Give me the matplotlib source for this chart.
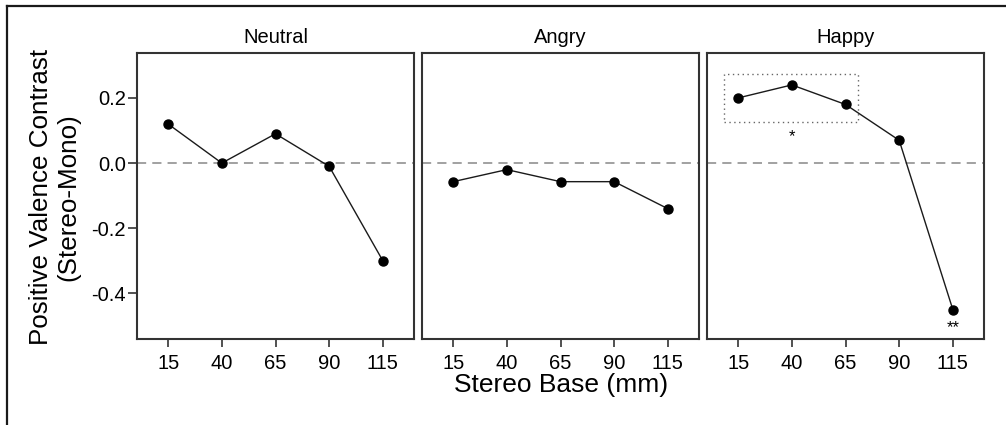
import matplotlib
matplotlib.use('Agg')
import matplotlib.pyplot as plt
from matplotlib.lines import Line2D
from matplotlib.patches import Rectangle

plt.rcParams['font.family'] = ['Liberation Sans', 'DejaVu Sans']
plt.rcParams['axes.unicode_minus'] = False

# data
stereo_base = [15, 40, 65, 90, 115]
panels = ['Neutral', 'Angry', 'Happy']
neutral = [0.12, 0.0, 0.09, -0.01, -0.30]
angry = [-0.057, -0.02, -0.057, -0.057, -0.14]
happy = [0.20, 0.24, 0.18, 0.07, -0.45]
y_ticks = [-0.4, -0.2, 0.0, 0.2]

series = [neutral, angry, happy]

W, H = 1006, 425
fig = plt.figure(figsize=(W / 100, H / 100), dpi=100)

# outer frame (left + top edges only, as in the cropped source)
fig.add_artist(Line2D([7 / W, 7 / W], [0, 1 - 6 / H], color='#1a1a1a', lw=1.6))
fig.add_artist(Line2D([7 / W, 1], [1 - 6 / H, 1 - 6 / H], color='#1a1a1a', lw=1.6))

lefts = [137, 422, 707]
pw = 277
top, bottom = 53, 339

for i, (name, vals) in enumerate(zip(panels, series)):
    ax = fig.add_axes([lefts[i] / W, 1 - bottom / H, pw / W, (bottom - top) / H])
    ax.axhline(0, color='#888888', lw=1.1, ls=(0, (6, 4)), zorder=1)
    ax.plot(stereo_base, vals, color='#1a1a1a', lw=1.0, marker='o', ms=6.5,
            markerfacecolor='black', markeredgecolor='black', zorder=3)
    ax.set_xlim(0.5, 129.5)
    ax.set_ylim(-0.54, 0.338)
    ax.set_xticks(stereo_base)
    ax.set_xticklabels([str(v) for v in stereo_base])
    ax.set_yticks(y_ticks)
    ax.set_yticklabels(['%.1f' % v for v in y_ticks])
    ax.tick_params(axis='x', direction='out', length=6, width=1.1, pad=4.5,
                   labelsize=14.5, color='#222222')
    ax.tick_params(axis='y', direction='out', length=6.5, width=1.1, pad=1.5,
                   labelsize=14.5, color='#222222')
    if i > 0:
        ax.tick_params(axis='y', left=False, labelleft=False)
    for s in ax.spines.values():
        s.set_linewidth(1.5)
        s.set_color('#333333')
    ax.set_title(name, fontsize=14.5, pad=7)

    if name == 'Happy':
        ax.add_patch(Rectangle((8.5, 0.127), 62.5, 0.148, fill=False,
                               ls=(0, (1, 2.5)), lw=1.0, edgecolor='#666666', zorder=2))
        ax.text(40, 0.08, '*', ha='center', va='center', fontsize=12)
        ax.text(115, -0.505, '**', ha='center', va='center', fontsize=12)

fig.text(41 / W, 1 - 197 / H, 'Positive Valence Contrast', rotation=90,
         ha='center', va='center', fontsize=18.7)
fig.text(68 / W, 1 - 197 / H, '(Stereo-Mono)', rotation=90,
         ha='center', va='center', fontsize=18.7)
fig.text(561 / W, 1 - 385 / H, 'Stereo Base (mm)', ha='center', va='center',
         fontsize=19)

fig.savefig('out.png', dpi=100)
